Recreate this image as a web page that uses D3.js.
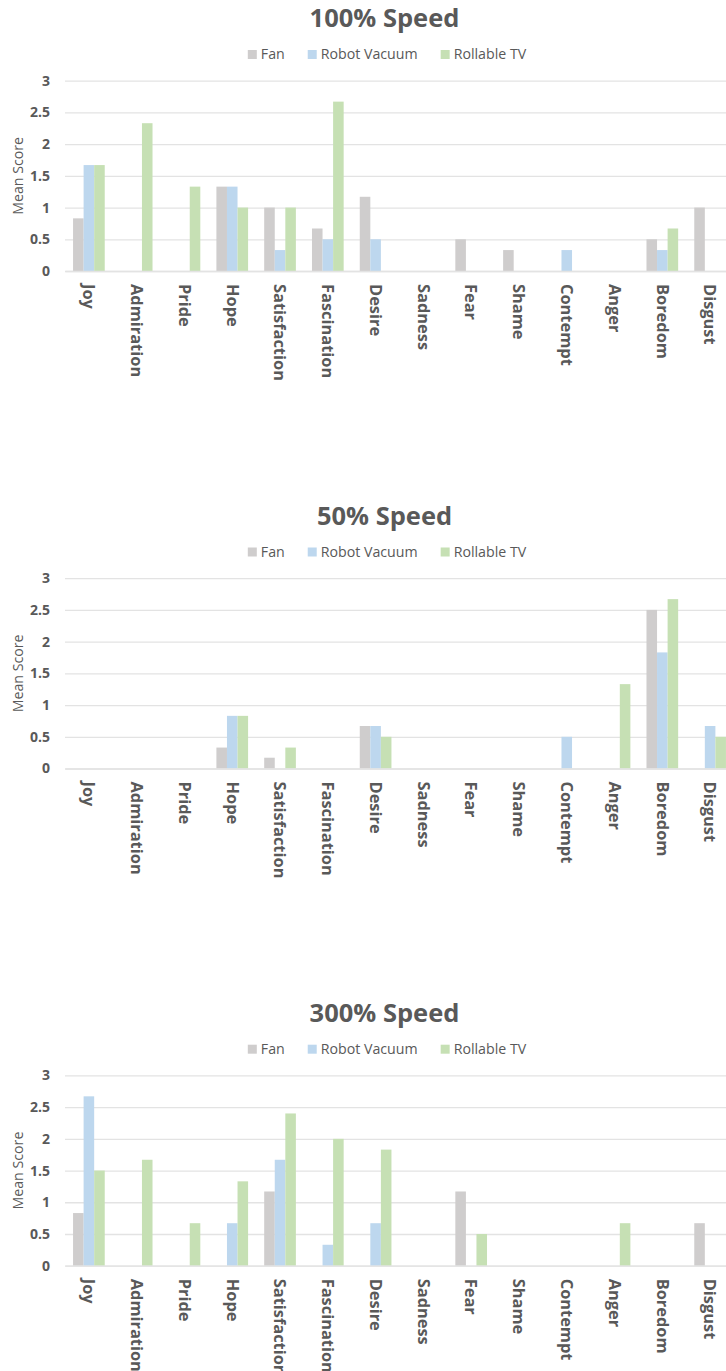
<!DOCTYPE html>
<html>
<head>
<meta charset="utf-8">
<script src="https://cdn.jsdelivr.net/npm/d3@7"></script>
<style>
  html, body { margin: 0; padding: 0; background: #ffffff; }
  svg { display: block; font-family: "Open Sans", sans-serif; }
</style>
</head>
<body>
<svg id="chart" width="726" height="1371"></svg>
<script>
// Emotion categories on the x axis
const categories = ["Joy", "Admiration", "Pride", "Hope", "Satisfaction", "Fascination",
  "Desire", "Sadness", "Fear", "Shame", "Contempt", "Anger", "Boredom", "Disgust"];

// Products compared in every panel
const seriesNames = ["Fan", "Robot Vacuum", "Rollable TV"];
const seriesColors = ["#cfcdcd", "#bdd7ee", "#c6e0b4"];

// Mean scores at 100% speed
const fan100   = [0.83, 0, 0, 1.33, 1.0, 0.67, 1.17, 0, 0.5, 0.33, 0, 0, 0.5, 1.0];
const robot100 = [1.67, 0, 0, 1.33, 0.33, 0.5, 0.5, 0, 0, 0, 0.33, 0, 0.33, 0];
const tv100    = [1.67, 2.33, 1.33, 1.0, 1.0, 2.67, 0, 0, 0, 0, 0, 0, 0.67, 0];

// Mean scores at 50% speed
const fan50   = [0, 0, 0, 0.33, 0.17, 0, 0.67, 0, 0, 0, 0, 0, 2.5, 0];
const robot50 = [0, 0, 0, 0.83, 0, 0, 0.67, 0, 0, 0, 0.5, 0, 1.83, 0.67];
const tv50    = [0, 0, 0, 0.83, 0.33, 0, 0.5, 0, 0, 0, 0, 1.33, 2.67, 0.5];

// Mean scores at 300% speed
const fan300   = [0.83, 0, 0, 0, 1.17, 0, 0, 0, 1.17, 0, 0, 0, 0, 0.67];
const robot300 = [2.67, 0, 0, 0.67, 1.67, 0.33, 0.67, 0, 0, 0, 0, 0, 0, 0];
const tv300    = [1.5, 1.67, 0.67, 1.33, 2.4, 2.0, 1.83, 0, 0.5, 0, 0, 0.67, 0, 0];

// Y axis ticks
const yTicks = [0, 0.5, 1, 1.5, 2, 2.5, 3];

const panels = [
  { title: "100% Speed", series: [fan100, robot100, tv100], top: 0 },
  { title: "50% Speed",  series: [fan50, robot50, tv50],    top: 497.5 },
  { title: "300% Speed", series: [fan300, robot300, tv300], top: 994.7 }
];

const textColor = "#595959";
const gridColor = "#e3e3e3";
const svg = d3.select("#chart");

// Shared scales (each panel is shifted vertically)
const plotLeft = 65, plotRight = 734;
const x0 = d3.scaleBand().domain(categories).range([plotLeft, plotRight])
  .paddingInner(0.337).paddingOuter(0.1685);
const x1 = d3.scaleBand().domain(d3.range(seriesNames.length)).range([0, x0.bandwidth()]);
const y = d3.scaleLinear().domain([0, 3]).range([271, 80.7]);

panels.forEach(p => {
  const g = svg.append("g").attr("transform", `translate(0,${p.top})`);

  // Title
  g.append("text")
    .attr("x", 384.5).attr("y", 27.3)
    .attr("text-anchor", "middle")
    .style("font-size", "25.5px").style("font-weight", "bold")
    .style("fill", textColor)
    .text(p.title);

  // Legend, centred under the title
  const legend = g.append("g");
  const items = legend.selectAll("g.item").data(seriesNames).join("g").attr("class", "item");
  items.append("rect")
    .attr("width", 9).attr("height", 9).attr("y", 50)
    .attr("fill", (d, i) => seriesColors[i]);
  items.append("text")
    .attr("x", 13).attr("y", 59.2)
    .style("font-size", "14.2px").style("fill", textColor)
    .text(d => d);
  let cursor = 0;
  items.each(function () {
    const t = d3.select(this).select("text").node().getComputedTextLength();
    d3.select(this).attr("transform", `translate(${cursor},0)`);
    cursor += 13 + t + 23;
  });
  const legendWidth = cursor - 23;
  legend.attr("transform", `translate(${387 - legendWidth / 2},0)`);

  // Y axis with gridlines
  const yAxis = g.append("g")
    .attr("transform", `translate(${plotLeft},0)`)
    .call(d3.axisLeft(y).tickValues(yTicks).tickSizeInner(-(plotRight - plotLeft)).tickSizeOuter(0)
      .tickPadding(15).tickFormat(d => String(d)));
  yAxis.select(".domain").remove();
  yAxis.selectAll(".tick line").attr("stroke", gridColor).attr("stroke-width", 1.3);
  yAxis.selectAll(".tick text")
    .style("font-family", "'Open Sans', sans-serif")
    .style("font-size", "14px").style("font-weight", "bold")
    .style("fill", textColor);

  // Y axis title
  g.append("text")
    .attr("transform", `translate(22.5,${(y(0) + y(3)) / 2}) rotate(-90)`)
    .attr("text-anchor", "middle")
    .style("font-size", "14.2px").style("fill", textColor)
    .text("Mean Score");

  // Bars
  const groups = g.append("g").selectAll("g").data(categories).join("g")
    .attr("transform", d => `translate(${x0(d)},0)`);
  groups.selectAll("rect")
    .data((c, ci) => p.series.map((s, si) => ({ si, v: s[ci] })))
    .join("rect")
    .attr("x", d => x1(d.si))
    .attr("width", x1.bandwidth())
    .attr("y", d => y(d.v))
    .attr("height", d => y(0) - y(d.v))
    .attr("fill", d => seriesColors[d.si]);

  // X axis with rotated category labels
  const xAxis = g.append("g")
    .attr("transform", `translate(0,${y(0)})`)
    .call(d3.axisBottom(x0).tickSize(0).tickPadding(0));
  xAxis.select(".domain").attr("stroke", gridColor).attr("stroke-width", 1.3);
  xAxis.selectAll(".tick text")
    .attr("y", 0).attr("x", 13).attr("dy", "0.35em")
    .attr("transform", "rotate(90)")
    .style("text-anchor", "start")
    .style("font-family", "'Open Sans', sans-serif")
    .style("font-size", "16.4px").style("font-weight", "bold")
    .style("fill", textColor);
});
</script>
</body>
</html>
